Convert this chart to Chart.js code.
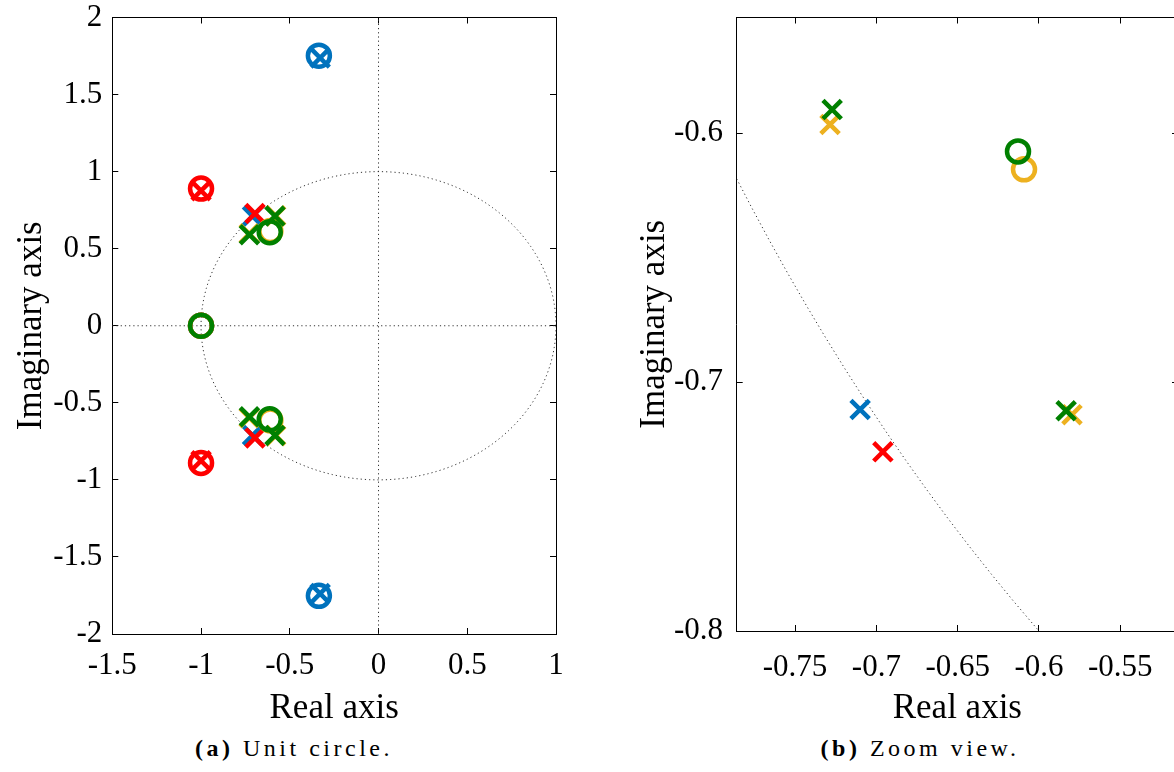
<!DOCTYPE html>
<html>
<head>
<meta charset="utf-8">
<script src="https://cdn.jsdelivr.net/npm/chart.js@4.4.1/dist/chart.umd.min.js"></script>
<style>
  html, body { margin: 0; padding: 0; background: #fff; overflow: hidden; width: 1174px; height: 772px; }
  #wrap { position: relative; width: 1174px; height: 772px; overflow: hidden; }
  canvas { position: absolute; top: 0; }
  #unitCanvas { left: 0; }
  #zoomCanvas { left: 600px; }
  .cap { position: absolute; top: 735px; font-family: "Liberation Serif", serif; font-size: 24px;
         letter-spacing: 3.5px; white-space: nowrap; transform: translateX(-50%); color: #000; }
</style>
</head>
<body>
<div id="wrap">
  <canvas id="unitCanvas" width="580" height="730"></canvas>
  <canvas id="zoomCanvas" width="602" height="730"></canvas>
  <div class="cap" style="left:294px"><b>(a)</b> Unit circle.</div>
  <div class="cap" style="left:920px"><b>(b)</b> Zoom view.</div>
</div>
<script>
// Tick values of the two panels
const unitTicksX = [-1.5, -1, -0.5, 0, 0.5, 1];
const unitTicksY = [-2, -1.5, -1, -0.5, 0, 0.5, 1, 1.5, 2];
const zoomTicksX = [-0.75, -0.7, -0.65, -0.6, -0.55];
const zoomTicksY = [-0.8, -0.7, -0.6];

// Poles (x) and zeros (o) of each system: real and imaginary parts
const bluePoleRe = [-0.710, -0.710, -0.329, -0.329];
const bluePoleIm = [0.711, -0.711, 1.738, -1.738];
const blueZeroRe = [-0.336, -0.336, -1.0];
const blueZeroIm = [1.752, -1.752, 0];

const redPoleRe = [-0.696, -0.696, -1.0, -1.0];
const redPoleIm = [0.728, -0.728, 0.876, -0.876];
const redZeroRe = [-1.0, -1.0, -1.0];
const redZeroIm = [0.890, -0.890, 0];

const orangePoleRe = [-0.7285, -0.7285, -0.5797, -0.5797];
const orangePoleIm = [0.5965, -0.5965, 0.7131, -0.7131];
const orangeZeroRe = [-0.6092, -0.6092, -1.0];
const orangeZeroIm = [0.6145, -0.6145, 0];

const greenPoleRe = [-0.7272, -0.7272, -0.5833, -0.5833];
const greenPoleIm = [0.5905, -0.5905, 0.7115, -0.7115];
const greenZeroRe = [-0.6129, -0.6129, -1.0];
const greenZeroIm = [0.6073, -0.6073, 0];

const colors = { blue: '#0072BD', red: '#FF0000', orange: '#EDB120', green: '#008000' };

// Reference curves: unit circle and the two coordinate axes
const unitCircle = [];
for (let deg = 0; deg <= 360; deg += 1) {
  const a = deg * Math.PI / 180;
  unitCircle.push({ x: Math.cos(a), y: Math.sin(a) });
}
const realAxisLine = [{ x: -1.5, y: 0 }, { x: 1, y: 0 }];
const imagAxisLine = [{ x: 0, y: -2 }, { x: 0, y: 2 }];

function pts(re, im) { return re.map((r, i) => ({ x: r, y: im[i] })); }

function poleSet(re, im, color, order) {
  return { data: pts(re, im), pointStyle: 'crossRot', pointRadius: 13, pointBorderWidth: 4.5,
           borderColor: color, backgroundColor: color, showLine: false, order: order };
}
function zeroSet(re, im, color, order) {
  return { data: pts(re, im), pointStyle: 'circle', pointRadius: 11, pointBorderWidth: 4.5,
           borderColor: color, backgroundColor: 'rgba(0,0,0,0)', showLine: false, order: order };
}
function guideSet(data) {
  return { data: data, showLine: true, borderColor: '#333', borderWidth: 1, borderDash: [1.2, 3],
           pointRadius: 0, fill: false, tension: 0, order: 20 };
}

function markerSets() {
  return [
    poleSet(bluePoleRe, bluePoleIm, colors.blue, 8),
    zeroSet(blueZeroRe, blueZeroIm, colors.blue, 7),
    poleSet(redPoleRe, redPoleIm, colors.red, 6),
    zeroSet(redZeroRe, redZeroIm, colors.red, 5),
    poleSet(orangePoleRe, orangePoleIm, colors.orange, 4),
    zeroSet(orangeZeroRe, orangeZeroIm, colors.orange, 3),
    poleSet(greenPoleRe, greenPoleIm, colors.green, 2),
    zeroSet(greenZeroRe, greenZeroIm, colors.green, 1)
  ];
}

const tickFont = { family: 'Liberation Serif', size: 31 };
const titleFont = { family: 'Liberation Serif', size: 35 };

function axis(opts) {
  const ax = {
    type: 'linear', position: opts.position, min: opts.min, max: opts.max,
    afterBuildTicks: s => { s.ticks = opts.ticks.map(v => ({ value: v })); },
    ticks: { display: !!opts.labels, font: tickFont, color: '#000', padding: opts.pad || 0,
             autoSkip: false, maxRotation: 0, minRotation: 0, callback: v => String(v) },
    grid: { display: true, drawOnChartArea: false, drawTicks: true, tickLength: -6,
            tickColor: '#000', tickWidth: 1 },
    border: { display: true, color: '#000', width: 1 },
    afterFit: s => {
      if (opts.w !== undefined) s.width = opts.w;
      if (opts.h !== undefined) s.height = opts.h;
      // the frame is fixed, so labels may overhang the plot box
      s.paddingTop = 0; s.paddingBottom = 0; s.paddingLeft = 0; s.paddingRight = 0;
    }
  };
  if (opts.title) {
    ax.title = { display: true, text: opts.title, font: titleFont, color: '#000', padding: opts.titlePad };
  }
  return ax;
}

const common = {
  responsive: false, animation: false, devicePixelRatio: 1, events: [],
  layout: { padding: 0 },
  plugins: { legend: { display: false }, tooltip: { enabled: false } }
};

// (a) full pole-zero map with the unit circle
new Chart(document.getElementById('unitCanvas'), {
  type: 'scatter',
  data: { datasets: [guideSet(unitCircle), guideSet(realAxisLine), guideSet(imagAxisLine)].concat(markerSets()) },
  options: Object.assign({}, common, {
    scales: {
      x: axis({ position: 'bottom', min: -1.5, max: 1, ticks: unitTicksX, labels: true, pad: 19,
                h: 96, title: 'Real axis', titlePad: { top: 0, bottom: 0 } }),
      y: axis({ position: 'left', min: -2, max: 2, ticks: unitTicksY, labels: true, pad: 16,
                w: 112.3, title: 'Imaginary axis', titlePad: { top: 11, bottom: 0 } }),
      xTop: axis({ position: 'top', min: -1.5, max: 1, ticks: unitTicksX, h: 16 }),
      yRight: axis({ position: 'right', min: -2, max: 2, ticks: unitTicksY, w: 24 })
    }
  })
});

// (b) close-up of the lower cluster
new Chart(document.getElementById('zoomCanvas'), {
  type: 'scatter',
  data: { datasets: [guideSet(unitCircle)].concat(markerSets()) },
  options: Object.assign({}, common, {
    scales: {
      x: axis({ position: 'bottom', min: -0.7859, max: -0.5145, ticks: zoomTicksX, labels: true, pad: 24,
                h: 99, title: 'Real axis', titlePad: { top: 0, bottom: 0 } }),
      y: axis({ position: 'left', min: -0.8, max: -0.5535, ticks: zoomTicksY, labels: true, pad: 19.7,
                w: 136.7, title: 'Imaginary axis', titlePad: { top: 34, bottom: 0 } }),
      xTop: axis({ position: 'top', min: -0.7859, max: -0.5145, ticks: zoomTicksX, h: 15.7 }),
      yRight: axis({ position: 'right', min: -0.8, max: -0.5535, ticks: zoomTicksY, w: 24 })
    }
  })
});
</script>
</body>
</html>
